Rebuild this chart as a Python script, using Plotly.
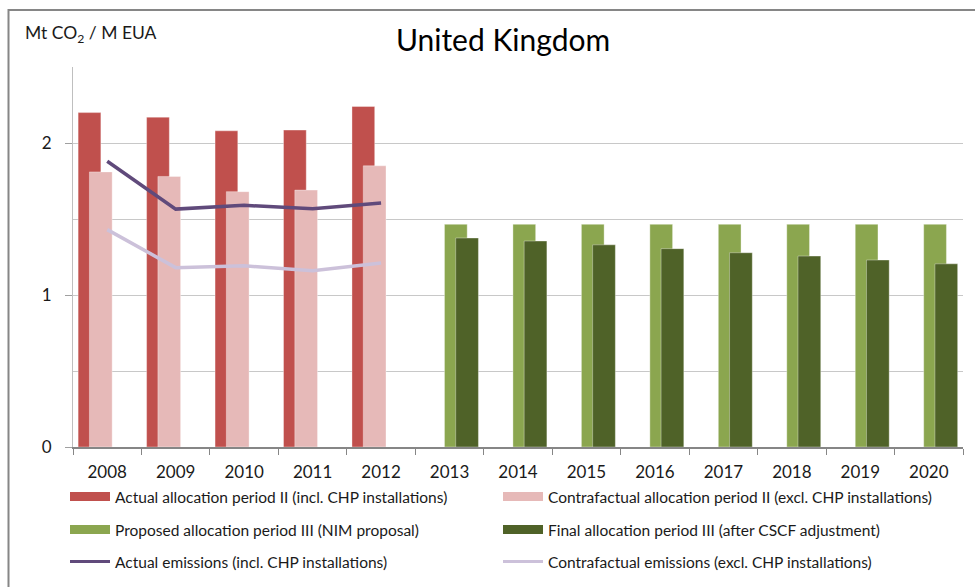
import plotly.graph_objects as go

years = [str(y) for y in range(2008, 2021)]
years_p2 = ["2008", "2009", "2010", "2011", "2012"]
years_p3 = ["2013", "2014", "2015", "2016", "2017", "2018", "2019", "2020"]

actual_alloc_p2 = [2.20, 2.17, 2.08, 2.085, 2.24]
contra_alloc_p2 = [1.81, 1.78, 1.68, 1.69, 1.85]
proposed_alloc_p3 = [1.465, 1.465, 1.465, 1.465, 1.465, 1.465, 1.465, 1.465]
final_alloc_p3 = [1.375, 1.355, 1.33, 1.305, 1.278, 1.256, 1.23, 1.205]
actual_emissions = [1.88, 1.565, 1.59, 1.568, 1.605]
contra_emissions = [1.43, 1.18, 1.192, 1.16, 1.21]

names = [
    "Actual allocation period II (incl. CHP installations)",
    "Contrafactual allocation period II (excl. CHP installations)",
    "Proposed allocation period III (NIM proposal)",
    "Final allocation period III (after CSCF adjustment)",
    "Actual emissions (incl. CHP installations)",
    "Contrafactual emissions (excl. CHP installations)",
]
colors = ["#C0504D", "#E6B9B8", "#8BA64F", "#4F6228", "#604A7B", "#CCC1DA"]

FONT = "Lato, 'Open Sans', sans-serif"
W = 0.332
edge = dict(color="rgba(255,255,255,0.35)", width=1)

fig = go.Figure()
fig.add_trace(go.Bar(x=years_p2, y=actual_alloc_p2, width=W, offset=-0.425,
                     marker=dict(color=colors[0], line=edge), showlegend=False))
fig.add_trace(go.Bar(x=years_p2, y=contra_alloc_p2, width=W, offset=-0.26,
                     marker=dict(color=colors[1], line=edge), showlegend=False))
fig.add_trace(go.Bar(x=years_p3, y=proposed_alloc_p3, width=W, offset=-0.074,
                     marker=dict(color=colors[2], line=edge), showlegend=False))
fig.add_trace(go.Bar(x=years_p3, y=final_alloc_p3, width=W, offset=0.09,
                     marker=dict(color=colors[3], line=edge), showlegend=False))
fig.add_trace(go.Scatter(x=years_p2, y=actual_emissions, mode="lines",
                         line=dict(color=colors[4], width=3.5), showlegend=False))
fig.add_trace(go.Scatter(x=years_p2, y=contra_emissions, mode="lines",
                         line=dict(color=colors[5], width=3.5), showlegend=False))

# legend entries: one legend per entry, two columns x three rows
legend_ids = ["legend", "legend2", "legend3", "legend4", "legend5", "legend6"]
for i, nm in enumerate(names):
    w = 9 if i < 4 else 3
    fig.add_trace(go.Scatter(x=[None], y=[None], mode="lines", name=nm,
                             line=dict(color=colors[i], width=w),
                             legend=legend_ids[i], showlegend=True))

leg_common = dict(orientation="h", xanchor="left", yanchor="middle",
                  font=dict(family=FONT, size=15.5, color="#1a1a1a"),
                  bgcolor="rgba(0,0,0,0)", itemwidth=40)
col_x = [(65 - 73) / 890, (498 - 73) / 890]
row_y = [(447 - 497) / 380, (447 - 530) / 380, (447 - 562) / 380]
leg_layout = {}
for i, lid in enumerate(legend_ids):
    leg_layout[lid] = dict(x=col_x[i % 2], y=row_y[i // 2], **leg_common)
fig.update_layout(**leg_layout)

fig.update_layout(
    width=975, height=587,
    margin=dict(l=73, r=12, t=67, b=140, autoexpand=False),
    paper_bgcolor="white", plot_bgcolor="white",
    barmode="overlay",
    font=dict(family=FONT, color="#1a1a1a"),
    xaxis=dict(type="category", categoryorder="array", categoryarray=years,
               range=[-0.5, 12.5],
               showline=True, linecolor="#868686", linewidth=1.5,
               ticks="outside", tickson="boundaries", ticklen=6, tickcolor="#868686",
               tickfont=dict(family=FONT, size=17, color="#1a1a1a"),
               ticklabelstandoff=9,
               showgrid=False),
    yaxis=dict(range=[0, 2.5], dtick=1, tick0=0,
               showline=True, linecolor="#BFBFBF", linewidth=1,
               ticks="outside", ticklen=7, tickcolor="#A0A0A0",
               tickfont=dict(family=FONT, size=17, color="#1a1a1a"),
               ticklabelstandoff=10,
               showgrid=True, gridcolor="#C8C8C8", gridwidth=1,
               minor=dict(dtick=0.5, showgrid=True, gridcolor="#C8C8C8", ticks=""),
               zeroline=False),
    title=dict(text="United Kingdom", x=503 / 975, xanchor="center",
               y=1 - 40 / 587, yanchor="middle", xref="container", yref="container",
               font=dict(family=FONT, size=30, color="#000000")),
    annotations=[dict(text="Mt CO<sub>2</sub> / M EUA", xref="paper", yref="paper",
                      x=(23 - 73) / 890, y=1 + (67 - 34) / 380,
                      xanchor="left", yanchor="middle", showarrow=False,
                      font=dict(family=FONT, size=17.5, color="#1a1a1a"))],
    shapes=[dict(type="rect", xref="paper", yref="paper",
                 x0=(8.5 - 73) / 890, x1=(1000 - 73) / 890,
                 y0=(447 - 620) / 380, y1=1 + (67 - 10) / 380,
                 line=dict(color="#868686", width=2), layer="below")],
)

fig.write_html("out.html", config={"displayModeBar": False},
               post_script="document.body.style.margin='0';")
